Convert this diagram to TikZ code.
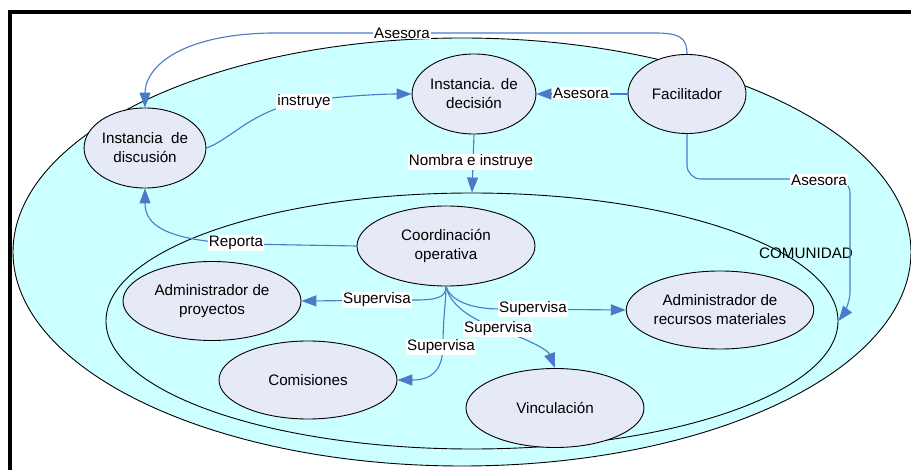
\documentclass[tikz,border=0pt]{standalone}
\usepackage{fontspec}
\setmainfont{Liberation Sans}
\usetikzlibrary{shapes.geometric,arrows.meta}
\definecolor{comfill}{RGB}{204,255,255}
\definecolor{nodefill}{RGB}{230,234,246}
\definecolor{conn}{RGB}{74,122,200}
\begin{document}
\begin{tikzpicture}[x=1pt,y=-1pt,
  font=\fontsize{15.2}{19}\selectfont,
  region/.style={ellipse, draw=black, fill=comfill, line width=0.9pt, inner sep=0pt},
  unit/.style={ellipse, draw=black, fill=nodefill, line width=0.9pt, inner sep=0pt, align=center},
  lbl/.style={fill=white, inner sep=1pt, text=black},
  link/.style={draw=conn, line width=1.1pt, -{Triangle[length=15pt,width=11pt]}}]
\useasboundingbox (0,0) rectangle (911,470);
\fill[white] (0,0) rectangle (911,470);
% frame
\draw[line width=4pt] (911,12) -- (9.5,12) -- (9.5,470);
% regions
\node[region, minimum width=898, minimum height=428] (outer) at (462,252) {};
\node[region, minimum width=732, minimum height=256] (inner) at (472,321) {};
\node (comu) at (806,253) {COMUNIDAD};
% units
\node[unit, minimum width=120, minimum height=80] (disc) at (145,148) {Instancia\ \ de\\discusión};
\node[unit, minimum width=122, minimum height=80] (dec) at (474,94) {Instancia. de\\decisión};
\node[unit, minimum width=118, minimum height=79] (fac) at (687,94) {Facilitador};
\node[unit, minimum width=178, minimum height=80] (coord) at (446,246) {Coordinación\\operativa};
\node[unit, minimum width=178, minimum height=79] (adp) at (212,301) {Administrador de\\proyectos};
\node[unit, minimum width=178, minimum height=78] (com) at (308,380) {Comisiones};
\node[unit, minimum width=178, minimum height=79] (vin) at (555,408) {Vinculación};
\node[unit, minimum width=179, minimum height=78] (adr) at (720,310) {Administrador de\\recursos materiales};
% connectors
\draw[link] (fac.north) .. controls (687,38) and (680,33) .. (655,33) -- (270,33)
  .. controls (175,35) and (145,70) .. (disc.north);
\draw[link] (disc.east) .. controls (230,140) and (250,112) .. (300,102)
  .. controls (340,96) and (380,94) .. (dec.west);
\draw[link] (fac.west) -- (dec.east);
\draw[link] (dec.south) -- (inner.north);
\draw[link, rounded corners=14pt] (fac.south) |- (850,179) -- (850,306) -- (inner.east);
\draw[link] (coord.west) -- (240,244) .. controls (165,240) and (145,225) .. (disc.south);
\draw[link] (coord.south) .. controls (446,297) and (438,300) .. (415,300) -- (adp.east);
\draw[link] (coord.south) .. controls (450,300) and (470,309) .. (500,309) -- (adr.west);
\draw[link] (coord.south) .. controls (450,305) and (470,318) .. (495,328)
  .. controls (530,340) and (548,350) .. (vin.north);
\draw[link] (coord.south) .. controls (446,300) and (443,320) .. (443,345)
  .. controls (443,372) and (430,380) .. (com.east);
% labels
\node[lbl] (l1) at (402,33) {Asesora};
\node[lbl] (l2) at (304,102) {instruye};
\node[lbl] (l3) at (581,93) {Asesora};
\node[lbl] (l4) at (471,162) {Nombra e instruye};
\node[lbl] (l5) at (819,180) {Asesora};
\node[lbl] (l6) at (236,243) {Reporta};
\node[lbl] (l7) at (377,300) {Supervisa};
\node[lbl] (l8) at (533,309) {Supervisa};
\node[lbl] (l9) at (498,329) {Supervisa};
\node[lbl] (l10) at (441,347) {Supervisa};
\end{tikzpicture}
\end{document}
